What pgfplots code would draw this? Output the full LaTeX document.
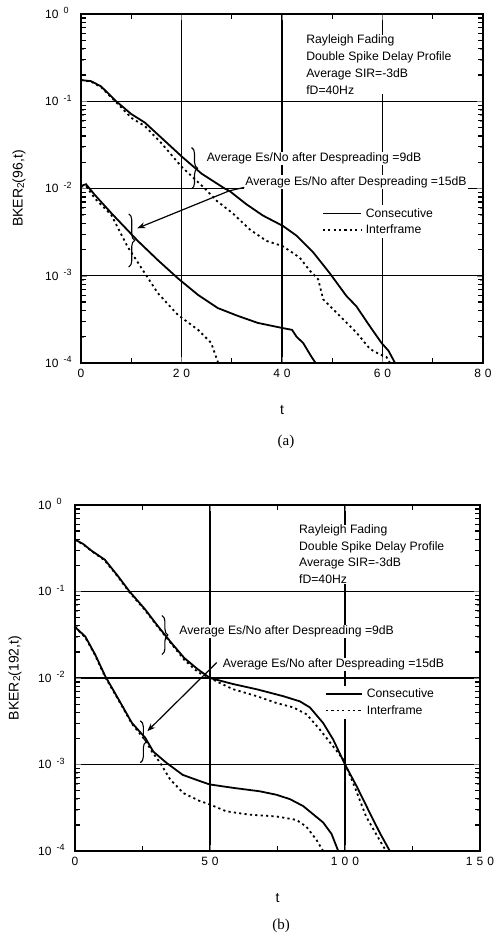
\documentclass[border=0pt]{standalone}
\usepackage{pgfplots}
\pgfplotsset{compat=1.18}
\usepackage{fontspec}
\setmainfont{Liberation Sans}
\newfontfamily\seriffont{Liberation Serif}
\usetikzlibrary{decorations.pathreplacing, arrows.meta}

\newcommand{\ylab}[1]{10\hspace{5pt}\raisebox{4.5pt}{\fontsize{9}{9}\selectfont #1}}
\newcommand{\fs}{\fontsize{12.2}{16.7}\selectfont}

\tikzset{
  cons/.style={black, line width=1.8pt},
  intf/.style={black, line width=1.8pt, dash pattern=on 2.2pt off 3.2pt},
  note/.style={fill=white, inner xsep=1pt, inner ysep=1pt, font=\fs, anchor=west},
  mt/.style={black, line width=1.1pt},
}

\begin{document}
\begin{tikzpicture}
\path[use as bounding box] (0pt,0pt) rectangle (499pt,-938pt);

% ---------------- (a) ----------------
\begin{axis}[
  scale only axis,
  at={(81pt,-363pt)}, anchor=south west, width=402pt, height=349pt,
  ymode=log, ymin=1e-4, ymax=1,
  ytick={1e-4,1e-3,1e-2,1e-1,1},
  yticklabels={\ylab{-4},\ylab{-3},\ylab{-2},\ylab{-1},\ylab{0}},
  xmin=0, xmax=80,
  xtick={0,20,40,60,80},
  xticklabels={0,2\hspace{4pt}0,4\hspace{4pt}0,6\hspace{4pt}0,8\hspace{4pt}0},
  grid=major,
  major grid style={black, line width=1.2pt},
  axis line style={line width=1.6pt},
  major tick length=6pt,
  tick label style={font=\fontsize{12}{12}\selectfont},
  yticklabel style={anchor=base west, inner sep=0pt, xshift=-36pt, yshift=-4.3pt},
  xticklabel style={yshift=-3pt},
  label style={font=\fontsize{14}{14}\selectfont},
  xlabel style={at={(axis description cs:0.5,0)}, anchor=center, yshift=-47pt},
  ylabel style={at={(axis description cs:0,0.5)}, anchor=center, yshift=62pt},
  xlabel={t},
  ylabel={BKER\raisebox{-1.5pt}{\fontsize{10}{10}\selectfont 2}(96,t)},
  legend style={draw=none, fill=white, inner xsep=2pt, inner ysep=1pt,
    row sep=2pt, font=\fontsize{12.2}{12}\selectfont, cells={anchor=west},
    anchor=west, at={(axis description cs:0.594,0.405)},
    nodes={inner xsep=4pt}},
  legend image code/.code={\draw[#1] (0pt,0pt) -- (38pt,0pt);},
]
\addplot[cons] coordinates {
(0,0.175) (2,0.170) (4,0.148) (7,0.100) (10,0.0714) (12.7,0.0570) (15,0.0431)
(20,0.0234) (24,0.0148) (28.6,0.0100) (29.6,0.00933) (32.9,0.00661) (36.2,0.00490)
(40.2,0.00372) (42.9,0.00288) (46.2,0.00186) (49.5,0.00107) (52.8,0.000589)
(54.8,0.000447) (57.5,0.000263) (59.8,0.000170) (61.2,0.000138) (62.5,0.0001)
};
\addlegendentry{Consecutive}
\addplot[intf] coordinates {
(0,0.175) (2,0.168) (4,0.145) (7,0.0977) (10,0.0646) (12.7,0.0520) (16,0.0331)
(20,0.0178) (24.5,0.0102) (27,0.00724) (30.3,0.00513) (33.6,0.00339) (36.9,0.00251)
(40.1,0.00219) (43.5,0.00162) (45.5,0.00115) (47.2,0.000912) (48.2,0.000537)
(50.8,0.000380) (54.8,0.000224) (57.5,0.000145) (59.4,0.000126) (60.8,0.000117)
(61.5,0.0001)
};
\addlegendentry{Interframe}
\addplot[cons, forget plot] coordinates {
(0,0.0107) (1,0.0112) (2.7,0.00851) (6.0,0.00525) (11.3,0.00251) (15.3,0.00151)
(19.3,0.000933) (23.3,0.000603) (27.2,0.000427) (31.2,0.000347) (35.2,0.000288)
(40.2,0.000251) (42.0,0.000240) (42.9,0.000200) (44.2,0.000170) (45.9,0.000117)
(46.7,0.0001)
};
\addplot[intf, forget plot] coordinates {
(0,0.0105) (1,0.0107) (2.7,0.00776) (6.0,0.00501) (9.3,0.00214) (12.7,0.00107)
(15.3,0.000631) (19.3,0.000355) (23.3,0.000240) (25.9,0.000170) (27.3,0.0001)
};
\pgfplotsinvokeforeach{2e-4,3e-4,4e-4,5e-4,6e-4,7e-4,8e-4,9e-4,
  2e-3,3e-3,4e-3,5e-3,6e-3,7e-3,8e-3,9e-3,
  2e-2,3e-2,4e-2,5e-2,6e-2,7e-2,8e-2,9e-2,
  2e-1,3e-1,4e-1,5e-1,6e-1,7e-1,8e-1,9e-1}{
  \draw[mt] (axis cs:0,#1) -- ++(5pt,0pt);
  \draw[mt] (axis cs:80,#1) -- ++(-5pt,0pt);
}
\pgfplotsinvokeforeach{10,30,50,70}{
  \draw[mt] (axis cs:#1,1e-4) -- ++(0pt,5pt);
  \draw[mt] (axis cs:#1,1) -- ++(0pt,-5pt);
}
\node[note, align=left, anchor=north west, inner sep=0pt] at (axis description cs:0.56,0.940)
  {Rayleigh Fading\\Double Spike Delay Profile\\Average SIR=-3dB\\fD=40Hz};
\node[note] at (axis description cs:0.310,0.5865) {Average Es/No after Despreading =9dB};
\node[note] at (axis description cs:0.406,0.5186) {Average Es/No after Despreading =15dB};
\draw[line width=1.1pt, decorate, decoration={brace, amplitude=6pt}]
  (axis cs:22.0,0.0295) -- (axis cs:22.0,0.0099);
\draw[line width=1.1pt, decorate, decoration={brace, amplitude=6pt}]
  (axis cs:9.5,0.00513) -- (axis cs:9.5,0.00126);
\draw[line width=1.2pt, -{Stealth[length=8pt,width=6pt]}]
  (axis cs:32.5,0.0103) -- (axis cs:29.5,0.0094) -- (axis cs:11.2,0.0035);
\end{axis}

% ---------------- (b) ----------------
\begin{axis}[
  scale only axis,
  at={(75pt,-851pt)}, anchor=south west, width=405pt, height=346pt,
  ymode=log, ymin=1e-4, ymax=1,
  ytick={1e-4,1e-3,1e-2,1e-1,1},
  yticklabels={\ylab{-4},\ylab{-3},\ylab{-2},\ylab{-1},\ylab{0}},
  xmin=0, xmax=150,
  xtick={0,50,100,150},
  xticklabels={0,5\hspace{4pt}0,1\hspace{4pt}0\hspace{4pt}0,1\hspace{4pt}5\hspace{4pt}0},
  grid=major,
  major grid style={black, line width=1.2pt},
  axis line style={line width=1.6pt},
  major tick length=6pt,
  tick label style={font=\fontsize{12}{12}\selectfont},
  yticklabel style={anchor=base west, inner sep=0pt, xshift=-37pt, yshift=-4.3pt},
  xticklabel style={yshift=-3pt},
  label style={font=\fontsize{14}{14}\selectfont},
  xlabel style={at={(axis description cs:0.5,0)}, anchor=center, yshift=-47pt},
  ylabel style={at={(axis description cs:0,0.5)}, anchor=center, yshift=60pt},
  xlabel={t},
  ylabel={BKER\raisebox{-1.5pt}{\fontsize{10}{10}\selectfont 2}(192,t)},
  legend style={draw=none, fill=white, inner xsep=2pt, inner ysep=1pt,
    row sep=2pt, font=\fontsize{12.2}{12}\selectfont, cells={anchor=west},
    anchor=west, at={(axis description cs:0.612,0.43)},
    nodes={inner xsep=4pt}},
  legend image code/.code={\draw[#1] (0pt,0pt) -- (36pt,0pt);},
]
\addplot[cons] coordinates {
(0,0.398) (3,0.355) (6.2,0.295) (11.0,0.234) (15.9,0.151) (20.2,0.100) (25.8,0.0631)
(30.7,0.0398) (35.6,0.0257) (40.5,0.0170) (45.5,0.0126) (50,0.0100) (58.6,0.00851)
(67.3,0.00741) (77.1,0.00617) (83.3,0.00537) (87,0.00457) (91.9,0.00302)
(95.6,0.00195) (100,0.00100) (104.3,0.000562) (109.2,0.000275) (112.9,0.000162)
(116.6,0.0001)
};
\addlegendentry{Consecutive}
\addplot[intf] coordinates {
(0,0.398) (3,0.351) (6.2,0.292) (11.0,0.229) (15.9,0.148) (20.2,0.0977) (25.8,0.0617)
(30.7,0.0389) (35.6,0.0251) (40.5,0.0162) (45.5,0.0117) (50,0.0100) (52.5,0.00912)
(58.6,0.00741) (67.3,0.00617) (74.7,0.00513) (80.9,0.00457) (85.8,0.00380)
(90.8,0.00251) (95.6,0.00162) (99.3,0.00115) (103.5,0.000562) (107.8,0.000251)
(112,0.000148) (115.2,0.0001)
};
\addlegendentry{Interframe}
\addplot[cons, forget plot] coordinates {
(0,0.0389) (3.8,0.0302) (7.5,0.0186) (11.2,0.0105) (16.2,0.00562) (21.1,0.00302)
(26.0,0.00204) (29,0.00141) (33.8,0.00105) (39.9,0.000759) (46.1,0.000646)
(49.8,0.000589) (58.6,0.000537) (68.5,0.000490) (74.6,0.000447) (79.6,0.000398)
(84.5,0.000331) (91.9,0.000214) (95,0.000158) (97.5,0.0001)
};
\addplot[intf, forget plot] coordinates {
(0,0.0389) (3.8,0.0295) (7.5,0.0182) (11.2,0.0102) (16.2,0.00550) (21.1,0.00295)
(26.0,0.00191) (28.5,0.00141) (31.5,0.00105) (35.2,0.000676) (40.1,0.000468)
(46.1,0.000380) (49.8,0.000347) (56,0.000288) (64.6,0.000263) (74.6,0.000251)
(82,0.000229) (85.7,0.000191) (89.4,0.000135) (91.9,0.0001)
};
\pgfplotsinvokeforeach{2e-4,3e-4,4e-4,5e-4,6e-4,7e-4,8e-4,9e-4,
  2e-3,3e-3,4e-3,5e-3,6e-3,7e-3,8e-3,9e-3,
  2e-2,3e-2,4e-2,5e-2,6e-2,7e-2,8e-2,9e-2,
  2e-1,3e-1,4e-1,5e-1,6e-1,7e-1,8e-1,9e-1}{
  \draw[mt] (axis cs:0,#1) -- ++(5pt,0pt);
  \draw[mt] (axis cs:150,#1) -- ++(-5pt,0pt);
}
\pgfplotsinvokeforeach{25,75,125}{
  \draw[mt] (axis cs:#1,1e-4) -- ++(0pt,5pt);
  \draw[mt] (axis cs:#1,1) -- ++(0pt,-5pt);
}
\node[note, align=left, anchor=north west, inner sep=0pt] at (axis description cs:0.553,0.9436)
  {Rayleigh Fading\\Double Spike Delay Profile\\Average SIR=-3dB\\fD=40Hz};
\node[note] at (axis description cs:0.255,0.635) {Average Es/No after Despreading =9dB};
\node[note] at (axis description cs:0.362,0.5384) {Average Es/No after Despreading =15dB};
\draw[line width=1.1pt, decorate, decoration={brace, amplitude=6pt}]
  (axis cs:32.2,0.0528) -- (axis cs:32.2,0.0187);
\draw[line width=1.1pt, decorate, decoration={brace, amplitude=6pt}]
  (axis cs:24.2,0.0032) -- (axis cs:24.2,0.00105);
\draw[line width=1.2pt, -{Stealth[length=8pt,width=6pt]}]
  (axis cs:52.5,0.0151) -- (axis cs:26.8,0.00243);
\end{axis}

\node[font=\seriffont\fontsize{15}{15}\selectfont] at (286pt,-442pt) {(a)};
\node[font=\seriffont\fontsize{15}{15}\selectfont] at (281pt,-926pt) {(b)};
\end{tikzpicture}
\end{document}
